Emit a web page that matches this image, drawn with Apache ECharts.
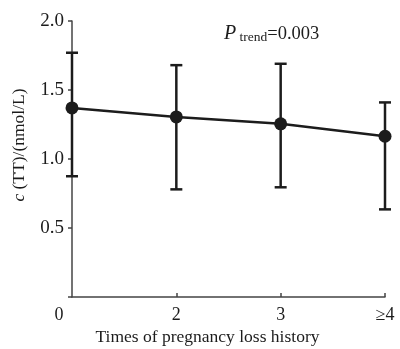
<!DOCTYPE html>
<html>
<head>
<meta charset="utf-8">
<script src="https://cdn.jsdelivr.net/npm/echarts@6/dist/echarts.min.js"></script>
<style>
  html, body { margin: 0; padding: 0; background: #fff; }
  #chart { width: 400px; height: 349px; }
</style>
</head>
<body>
<div id="chart"></div>
<script>
const categories = ['0', '2', '3', '≥4'];
const means = [1.37, 1.305, 1.255, 1.165];
const upper = [1.77, 1.68, 1.69, 1.41];
const lower = [0.875, 0.78, 0.795, 0.635];
const yTicks = [0.5, 1.0, 1.5, 2.0];
const pTrend = '0.003';

const serif = '"Liberation Serif", "DejaVu Serif", serif';
const ink = '#1c1c1c';

const errorData = categories.map((c, i) => [i, lower[i], upper[i]]);

const renderErrorBar = (params, api) => {
  const lo = api.coord([api.value(0), api.value(1)]);
  const hi = api.coord([api.value(0), api.value(2)]);
  const half = 6;
  const style = { stroke: ink, lineWidth: 2.5 };
  return {
    type: 'group',
    children: [
      { type: 'line', shape: { x1: hi[0], y1: hi[1], x2: lo[0], y2: lo[1] }, style },
      { type: 'line', shape: { x1: hi[0] - half, y1: hi[1], x2: hi[0] + half, y2: hi[1] }, style },
      { type: 'line', shape: { x1: lo[0] - half, y1: lo[1], x2: lo[0] + half, y2: lo[1] }, style },
    ],
  };
};

const option = {
  animation: false,
  backgroundColor: '#fff',
  grid: { left: 72, right: 15, top: 21, bottom: 52, outerBoundsMode: 'none' },
  xAxis: {
    type: 'category',
    data: categories,
    boundaryGap: false,
    name: 'Times of pregnancy loss history',
    nameLocation: 'middle',
    nameGap: 31,
    nameTextStyle: { fontFamily: serif, fontSize: 17.5, color: ink, padding: [0, 42, 0, 0] },
    axisLine: { lineStyle: { color: '#444', width: 1.5 } },
    axisTick: {
      inside: true, length: 4, alignWithLabel: true,
      lineStyle: { color: '#444', width: 1.5 },
      interval: (i) => i > 0,
    },
    axisLabel: {
      fontFamily: serif, fontSize: 18, color: ink, margin: 9,
      formatter: (v, i) => (i === 0 ? '{first|' + v + '}' : v),
      rich: { first: { fontFamily: serif, fontSize: 18, color: ink, padding: [0, 26, 0, 0] } },
    },
    splitLine: { show: false },
  },
  yAxis: {
    type: 'value',
    min: 0,
    max: 2.0,
    interval: 0.5,
    name: '{i|c} (TT)/(nmol/L)',
    nameLocation: 'middle',
    nameGap: 44,
    nameRotate: 90,
    nameTextStyle: {
      fontFamily: serif, fontSize: 17.5, color: ink,
      padding: [0, 0, 0, 28],
      rich: { i: { fontFamily: serif, fontStyle: 'italic', fontSize: 17.5, color: ink } },
    },
    axisLine: { show: true, lineStyle: { color: '#444', width: 1.5 } },
    axisTick: { show: true, length: 4, lineStyle: { color: '#444', width: 1.5 } },
    axisLabel: {
      fontFamily: serif, fontSize: 19, color: ink, margin: 8,
      formatter: (v) => (yTicks.includes(v) ? v.toFixed(1) : ''),
    },
    splitLine: { show: false },
  },
  graphic: [
    {
      type: 'text',
      left: 224,
      top: 24,
      style: {
        text: '{p|P} {s|trend}{n|=' + pTrend + '}',
        rich: {
          p: { fontFamily: serif, fontStyle: 'italic', fontSize: 20, fill: ink },
          s: { fontFamily: serif, fontSize: 13.5, fill: ink, verticalAlign: 'bottom' },
          n: { fontFamily: serif, fontSize: 18.5, fill: ink },
        },
      },
    },
  ],
  series: [
    {
      type: 'custom',
      renderItem: renderErrorBar,
      data: errorData,
      encode: { x: 0, y: [1, 2] },
      z: 2,
    },
    {
      type: 'line',
      data: means,
      symbol: 'circle',
      symbolSize: 13,
      lineStyle: { color: ink, width: 2.5 },
      itemStyle: { color: ink },
      z: 3,
    },
  ],
};

echarts.init(document.getElementById('chart'), null, { renderer: 'canvas' }).setOption(option);
</script>
</body>
</html>
